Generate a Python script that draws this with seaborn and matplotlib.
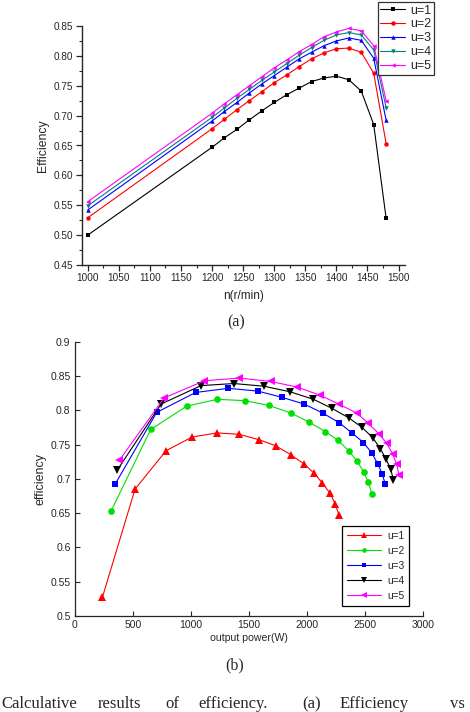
import matplotlib
matplotlib.use("Agg")
import matplotlib.pyplot as plt
import seaborn as sns
import pandas as pd
from matplotlib.ticker import MultipleLocator

# ---------------- data: chart (a) ----------------
speed = [1000, 1200, 1220, 1240, 1260, 1280, 1300, 1320, 1340, 1360, 1380, 1400, 1420, 1440, 1460, 1480]
eff_u1 = [0.500, 0.647, 0.663, 0.677, 0.693, 0.708, 0.722, 0.735, 0.746, 0.757, 0.763, 0.766, 0.760, 0.741, 0.685, 0.528]
eff_u2 = [0.529, 0.678, 0.694, 0.710, 0.725, 0.740, 0.755, 0.768, 0.782, 0.795, 0.805, 0.812, 0.813, 0.806, 0.771, 0.653]
eff_u3 = [0.542, 0.691, 0.707, 0.722, 0.738, 0.753, 0.767, 0.781, 0.795, 0.806, 0.817, 0.825, 0.830, 0.826, 0.796, 0.692]
eff_u4 = [0.549, 0.697, 0.713, 0.729, 0.744, 0.759, 0.773, 0.787, 0.801, 0.814, 0.826, 0.835, 0.839, 0.835, 0.810, 0.713]
eff_u5 = [0.556, 0.704, 0.720, 0.735, 0.750, 0.765, 0.780, 0.793, 0.807, 0.819, 0.832, 0.840, 0.846, 0.842, 0.817, 0.725]

# ---------------- data: chart (b) ----------------
p_u1 = [238, 519, 786, 1010, 1226, 1414, 1589, 1733, 1861, 1971, 2062, 2131, 2197, 2240, 2275]
e_u1 = [0.527, 0.685, 0.741, 0.761, 0.767, 0.765, 0.757, 0.748, 0.735, 0.722, 0.708, 0.694, 0.679, 0.664, 0.647]
p_u2 = [313, 654, 964, 1227, 1466, 1672, 1861, 2014, 2157, 2266, 2358, 2430, 2487, 2527, 2559]
e_u2 = [0.653, 0.772, 0.806, 0.816, 0.814, 0.807, 0.796, 0.783, 0.769, 0.756, 0.741, 0.726, 0.710, 0.695, 0.678]
p_u3 = [347, 706, 1041, 1322, 1575, 1781, 1976, 2134, 2275, 2386, 2484, 2556, 2608, 2647, 2673]
e_u3 = [0.692, 0.797, 0.826, 0.832, 0.828, 0.819, 0.809, 0.796, 0.782, 0.767, 0.753, 0.738, 0.722, 0.707, 0.692]
p_u4 = [367, 743, 1087, 1371, 1632, 1853, 2054, 2212, 2358, 2473, 2565, 2630, 2679, 2720, 2742]
e_u4 = [0.713, 0.809, 0.836, 0.839, 0.835, 0.827, 0.816, 0.803, 0.789, 0.775, 0.760, 0.744, 0.729, 0.714, 0.699]
p_u5 = [384, 769, 1116, 1417, 1687, 1910, 2111, 2272, 2427, 2527, 2616, 2685, 2737, 2771, 2791]
e_u5 = [0.727, 0.818, 0.843, 0.847, 0.842, 0.834, 0.822, 0.809, 0.796, 0.781, 0.766, 0.752, 0.736, 0.721, 0.705]

labels = ["u=1", "u=2", "u=3", "u=4", "u=5"]
a_yticks = [0.45, 0.50, 0.55, 0.60, 0.65, 0.70, 0.75, 0.80, 0.85]
a_yticklabels = ["0.45", "0.50", "0.55", "0.60", "0.65", "0.70", "0.75", "0.80", "0.85"]
b_xticks = [0, 500, 1000, 1500, 2000, 2500, 3000]
b_yticks = [0.5, 0.55, 0.6, 0.65, 0.7, 0.75, 0.8, 0.85, 0.9]
b_yticklabels = ["0.5", "0.55", "0.6", "0.65", "0.7", "0.75", "0.8", "0.85", "0.9"]
cap_words = ["Calculative", "results", "of", "efficiency.", "(a)", "Efficiency", "vs"]

sns.set_style("ticks")
plt.rcParams["font.family"] = ["Liberation Sans", "DejaVu Sans"]

W, H = 470, 712
fig = plt.figure(figsize=(W / 100, H / 100), dpi=100)

def rect(x0, y0, x1, y1):
    return [x0 / W, 1 - y1 / H, (x1 - x0) / W, (y1 - y0) / H]

# ---------------- chart (a) ----------------
ax1 = fig.add_axes(rect(81.5, 26, 404.8, 265))
top_series = [eff_u1, eff_u2, eff_u3, eff_u4, eff_u5]
top_colors = ["#000000", "#ff0000", "#0000ff", "#008080", "#ff00ff"]
top_markers = ["s", "o", "^", "v", "<"]
for vals, col, mk, lab in zip(top_series, top_colors, top_markers, labels):
    df = pd.DataFrame({"n": speed, "eff": vals})
    sns.lineplot(data=df, x="n", y="eff", ax=ax1, color=col, marker=mk,
                 markersize=3.2, markeredgewidth=0, linewidth=0.8, label=lab,
                 estimator=None, sort=False)
ax1.set_xlim(990, 1510)
ax1.set_ylim(0.45, 0.85)
ax1.xaxis.set_major_locator(MultipleLocator(50))
ax1.xaxis.set_minor_locator(MultipleLocator(25))
ax1.yaxis.set_minor_locator(MultipleLocator(0.025))
ax1.set_yticks(a_yticks)
ax1.set_yticklabels(a_yticklabels)
for s in ["top", "right"]:
    ax1.spines[s].set_visible(False)
for s in ["left", "bottom"]:
    ax1.spines[s].set_linewidth(1.0)
ax1.tick_params(which="major", direction="out", length=4, width=0.9, labelsize=7.2, pad=2)
ax1.tick_params(which="minor", direction="out", length=2.2, width=0.8)
ax1.set_xlabel("n(r/min)", fontsize=8.5, labelpad=5)
ax1.set_ylabel("Efficiency", fontsize=8.8, labelpad=3)
leg1 = ax1.legend(loc="upper right", bbox_to_anchor=(434 / W, 1 - 2 / H),
                  bbox_transform=fig.transFigure, fontsize=9, frameon=True,
                  fancybox=False, edgecolor="#333333", framealpha=1,
                  labelspacing=0.15, handlelength=2.0, handletextpad=0.4,
                  borderpad=0.2, borderaxespad=0)
leg1.get_frame().set_linewidth(0.9)

# ---------------- chart (b) ----------------
ax2 = fig.add_axes(rect(74.7, 341.7, 423.3, 616))
bot_p = [p_u1, p_u2, p_u3, p_u4, p_u5]
bot_e = [e_u1, e_u2, e_u3, e_u4, e_u5]
bot_colors = ["#ff0000", "#00e000", "#0000ff", "#000000", "#ff00ff"]
bot_markers = ["^", "o", "s", "v", "<"]
bot_msize = [5.5, 4.8, 4.2, 5.5, 5.5]
for p, e, col, mk, ms, lab in zip(bot_p, bot_e, bot_colors, bot_markers, bot_msize, labels):
    df = pd.DataFrame({"P": p, "eff": e})
    sns.lineplot(data=df, x="P", y="eff", ax=ax2, color=col, marker=mk,
                 markersize=ms, markeredgewidth=0, linewidth=0.8, label=lab,
                 estimator=None, sort=False)
ax2.set_xlim(0, 3000)
ax2.set_ylim(0.5, 0.9)
ax2.set_xticks(b_xticks)
ax2.set_xticklabels([str(v) for v in b_xticks])
ax2.set_yticks(b_yticks)
ax2.set_yticklabels(b_yticklabels)
for s in ["top", "right"]:
    ax2.spines[s].set_visible(False)
for s in ["left", "bottom"]:
    ax2.spines[s].set_linewidth(0.9)
ax2.tick_params(which="major", direction="in", length=3.5, width=0.8, labelsize=7.5, pad=3)
ax2.set_xlabel("output power(W)", fontsize=7.6, labelpad=2)
ax2.set_ylabel("efficiency", fontsize=9, labelpad=3)
handles, labs = ax2.get_legend_handles_labels()
leg2 = ax2.legend(handles, labs, loc="upper right", bbox_to_anchor=(409.3 / W, 1 - 525.7 / H),
                  bbox_transform=fig.transFigure, fontsize=7.3, frameon=True,
                  fancybox=False, edgecolor="#000000", framealpha=1,
                  labelspacing=0.5, handlelength=3.3, handletextpad=0.6,
                  borderpad=0.5, borderaxespad=0, markerscale=0.7)
leg2.get_frame().set_linewidth(0.9)

# ---------------- panel labels and caption ----------------
serif = ["Liberation Serif", "DejaVu Serif"]
fig.text(236 / W, 1 - 322 / H, "(a)", ha="center", va="center", fontsize=11.5, family=serif)
fig.text(235 / W, 1 - 665 / H, "(b)", ha="center", va="center", fontsize=11.5, family=serif)
cap_x = [1, 98, 165, 198, 302, 340, 450]
for wd, xx in zip(cap_words, cap_x):
    fig.text(xx / W, 1 - 708 / H, wd, ha="left", va="baseline", fontsize=12, family=serif)

fig.savefig("out.png", dpi=100)
